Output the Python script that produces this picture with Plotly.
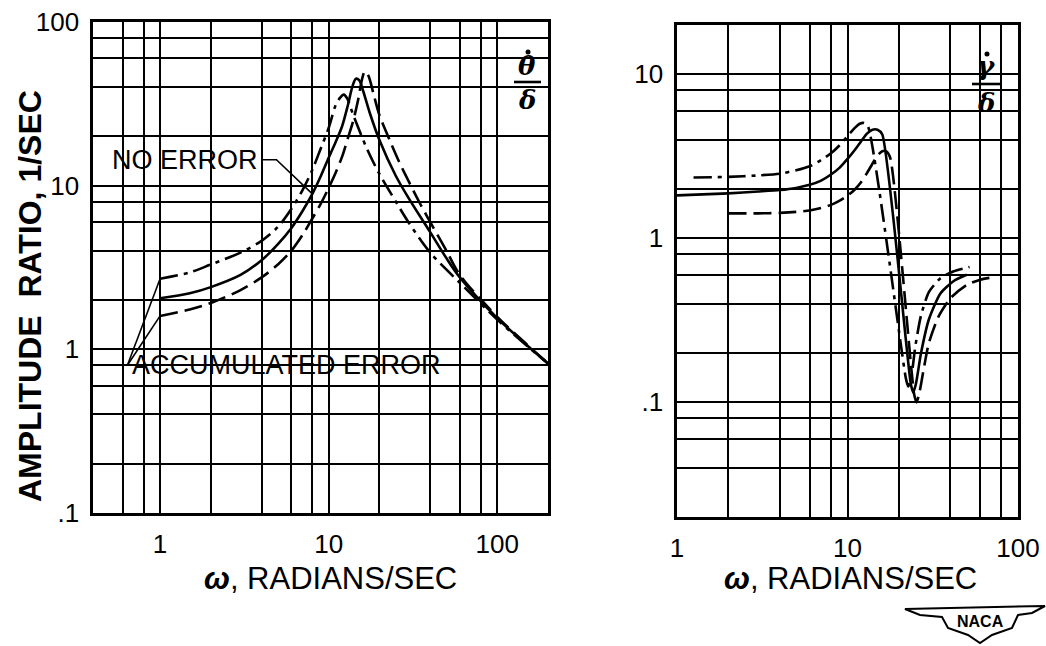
import math
import plotly.graph_objects as go

W, H = 1046, 646

# ---------------- data: left panel (theta-dot / delta) ----------------
L_dd_w = [1, 1.5, 2, 3, 4, 5, 6, 7, 8, 9, 10, 11, 11.7, 12.3, 12.9, 14, 17, 20, 25, 30, 40, 60, 100, 150, 200]
L_dd_a = [2.7, 2.95, 3.3, 3.9, 4.6, 5.6, 7.2, 9.4, 12.5, 17, 22.5, 31, 34.5, 36, 34, 27, 16.5, 11.8, 8.0, 5.9, 3.9, 2.55, 1.52, 1.05, 0.82]

L_so_w = [1, 1.5, 2, 3, 4, 5, 6, 7, 8, 9, 10, 11, 12, 13, 13.8, 14.5, 15.2, 16, 17.5, 20, 25, 30, 40, 50, 60, 100, 150, 200]
L_so_a = [2.05, 2.2, 2.4, 2.85, 3.5, 4.4, 5.5, 7.0, 8.9, 11.5, 14.8, 18.5, 23, 31, 40, 45, 44, 38, 28, 19, 11.5, 8.3, 5.2, 3.6, 2.75, 1.55, 1.06, 0.82]

L_da_w = [1, 1.5, 2, 3, 4, 5, 6, 7, 8, 9, 10, 11, 12, 13, 14, 15, 15.8, 16.4, 17.2, 18.5, 20, 23, 26, 30, 35, 40, 50, 60, 100, 150, 200]
L_da_a = [1.6, 1.75, 1.92, 2.3, 2.75, 3.3, 4.0, 5.0, 6.3, 7.8, 9.7, 12, 15, 19.5, 25, 34, 45, 50, 47, 36, 27, 19, 14.2, 10.5, 7.7, 6.0, 4.0, 2.85, 1.58, 1.07, 0.82]

# ---------------- data: right panel (gamma-dot / delta) ----------------
R_dd_w = [1.25, 2, 3, 4, 5, 6, 7, 8, 9, 10, 11, 11.8, 12.5, 13.2, 22.0, 22.7, 23.6, 25, 27, 30, 35, 42, 52]
R_dd_a = [2.35, 2.37, 2.42, 2.48, 2.6, 2.75, 3.0, 3.3, 3.7, 4.2, 4.7, 5.0, 5.05, 4.8, 0.14, 0.125, 0.14, 0.22, 0.34, 0.47, 0.57, 0.63, 0.67]

R_so_w = [1, 2, 3, 4, 5, 6, 7, 8, 9, 10, 11, 12, 13, 14, 15, 16, 23.5, 24.3, 25.2, 27, 30, 35, 42, 50]
R_so_a = [1.83, 1.88, 1.93, 1.97, 2.03, 2.12, 2.25, 2.45, 2.7, 3.05, 3.45, 3.9, 4.35, 4.6, 4.6, 4.3, 0.13, 0.115, 0.13, 0.2, 0.32, 0.46, 0.55, 0.6]

R_da_w = [2, 3, 4, 5, 6, 7, 8, 9, 10, 11, 12, 13, 14, 15, 16, 16.8, 17.8, 24.6, 25.4, 26.3, 28, 30, 34, 40, 50, 60, 72]
R_da_a = [1.42, 1.42, 1.43, 1.45, 1.48, 1.53, 1.6, 1.7, 1.82, 1.98, 2.2, 2.5, 2.85, 3.2, 3.4, 3.4, 3.1, 0.112, 0.1, 0.112, 0.16, 0.23, 0.33, 0.43, 0.52, 0.56, 0.58]

# ---------------- grids and tick labels ----------------
L_x_grid = [0.6, 0.8, 1, 2, 4, 6, 8, 10, 20, 40, 60, 80, 100]
L_x_text = {1: "1", 10: "10", 100: "100"}
L_y_grid = [0.1, 0.2, 0.4, 0.6, 0.8, 1, 2, 4, 6, 8, 10, 20, 40, 60, 80, 100]
L_y_text = {0.1: ".1", 1: "1", 10: "10", 100: "100"}
R_x_grid = [1, 2, 4, 6, 8, 10, 20, 40, 60, 80, 100]
R_x_text = {1: "1", 10: "10", 100: "100"}
R_y_grid = [0.04, 0.06, 0.08, 0.1, 0.2, 0.4, 0.6, 0.8, 1, 2, 4, 6, 8, 10]
R_y_text = {0.1: ".1", 1: "1", 10: "10"}

# annotation anchors (data units)
noerr_anchor = (3.9, 14.4)
noerr_bend_w = 4.9
noerr_target_idx = 8          # solid curve point it points at
acc_anchor = (0.64, 0.8)

FONT = "Liberation Sans"
BLK = "black"

fig = go.Figure()

def add_curve(xs, ys, dash, xa, ya, smooth):
    fig.add_trace(go.Scatter(x=xs, y=ys, mode="lines", xaxis=xa, yaxis=ya,
                             line=dict(color=BLK, width=2.6, dash=dash,
                                       shape="spline", smoothing=smooth),
                             hoverinfo="skip", showlegend=False))

DASHDOT = "18px,6px,4px,6px"
DASHED = "18px,7px"

add_curve(L_dd_w, L_dd_a, DASHDOT, "x", "y", 0.9)
add_curve(L_so_w, L_so_a, "solid", "x", "y", 0.9)
add_curve(L_da_w, L_da_a, DASHED, "x", "y", 0.9)
add_curve(R_dd_w, R_dd_a, DASHDOT, "x2", "y2", 0.6)
add_curve(R_so_w, R_so_a, "solid", "x2", "y2", 0.6)
add_curve(R_da_w, R_da_a, DASHED, "x2", "y2", 0.6)

# leader lines
def leader(xs, ys):
    fig.add_trace(go.Scatter(x=xs, y=ys, mode="lines", xaxis="x", yaxis="y",
                             line=dict(color=BLK, width=1.6),
                             hoverinfo="skip", showlegend=False))

leader([noerr_anchor[0] * 1.03, noerr_bend_w, L_so_w[noerr_target_idx]],
       [noerr_anchor[1], noerr_anchor[1], L_so_a[noerr_target_idx]])
leader([acc_anchor[0], L_dd_w[0]], [acc_anchor[1], L_dd_a[0]])
leader([acc_anchor[0], L_da_w[0]], [acc_anchor[1], L_da_a[0]])

def px(x):
    return x / W

def py(y):
    return 1 - y / H

def axis(grid, labels, rng, dom):
    return dict(type="log", range=[math.log10(rng[0]), math.log10(rng[1])], domain=dom,
                tickmode="array", tickvals=grid,
                ticktext=[labels.get(v, "") for v in grid],
                showgrid=True, gridcolor=BLK, gridwidth=2,
                showline=True, linecolor=BLK, linewidth=2.6, mirror=True,
                ticks="", zeroline=False, ticklabelstandoff=6, automargin=False,
                tickfont=dict(family=FONT, size=26, color=BLK), fixedrange=True)

lx = [px(93), px(548)]
ly = [py(513), py(22)]
rx = [px(677), px(1018)]
ry = [py(517), py(25)]

fig.update_layout(
    width=W, height=H, margin=dict(l=0, r=0, t=0, b=0, autoexpand=False), autosize=False,
    paper_bgcolor="white", plot_bgcolor="white",
    xaxis=axis(L_x_grid, L_x_text, (0.4, 200), lx),
    yaxis=axis(L_y_grid, L_y_text, (0.1, 100), ly),
    xaxis2=axis(R_x_grid, R_x_text, (1, 100), rx),
    yaxis2=axis(R_y_grid, R_y_text, (0.02, 20), ry),
)
fig.layout.yaxis2.anchor = "x2"
fig.layout.xaxis2.anchor = "y2"

shapes = []
def wbox(x0, y0, x1, y1):
    shapes.append(dict(type="rect", xref="paper", yref="paper", layer="between",
                       x0=px(x0), x1=px(x1), y0=py(y1), y1=py(y0),
                       fillcolor="white", line=dict(width=0)))

wbox(94, 137, 280, 183)      # NO ERROR
wbox(125, 352, 468, 384)     # ACCUMULATED ERROR
wbox(508, 40, 546, 120)      # theta-dot/delta
wbox(967, 46, 1006, 122)     # gamma-dot/delta

# fraction bars
for x0, x1, y in [(514, 541, 82), (972, 1001, 84)]:
    shapes.append(dict(type="line", xref="paper", yref="paper",
                       x0=px(x0), x1=px(x1), y0=py(y), y1=py(y),
                       line=dict(color=BLK, width=2.6)))
# dots over theta / gamma
for cx, cy in [(528, 52), (987, 54)]:
    shapes.append(dict(type="circle", xref="paper", yref="paper",
                       x0=px(cx - 2.5), x1=px(cx + 2.5), y0=py(cy + 2.5), y1=py(cy - 2.5),
                       fillcolor=BLK, line=dict(width=0)))

# NACA emblem outline
pts = [(905, 609), (1045, 606), (1032, 613), (1018, 615), (1012, 628), (992, 635),
       (980, 643), (968, 635), (948, 628), (942, 617), (920, 615)]
path = "M " + " L ".join(f"{px(a):.5f},{py(b):.5f}" for a, b in pts) + " Z"
shapes.append(dict(type="path", xref="paper", yref="paper", path=path,
                   line=dict(color=BLK, width=2), fillcolor="white"))
fig.update_layout(shapes=shapes)

ann = []
def txt(x, y, text, size, family=FONT, **kw):
    d = dict(xref="paper", yref="paper", x=px(x), y=py(y), text=text, showarrow=False,
             xanchor="center", yanchor="middle", font=dict(family=family, size=size, color=BLK))
    d.update(kw)
    ann.append(d)

ann.append(dict(xref="x", yref="y", x=math.log10(noerr_anchor[0]), y=math.log10(noerr_anchor[1]),
                text="NO ERROR", showarrow=False, xanchor="right", yanchor="middle",
                font=dict(family=FONT, size=27, color=BLK)))
ann.append(dict(xref="x", yref="y", x=math.log10(acc_anchor[0] * 1.04), y=math.log10(acc_anchor[1]),
                text="ACCUMULATED ERROR", showarrow=False, xanchor="left", yanchor="middle",
                font=dict(family=FONT, size=27, color=BLK)))
# fraction labels
txt(527, 66, "<b><i>θ</i></b>", 26, "DejaVu Serif")
txt(527, 100, "<b><i>δ</i></b>", 26, "DejaVu Serif")
txt(986, 66, "<b><i>γ</i></b>", 26, "DejaVu Serif")
txt(986, 103, "<b><i>δ</i></b>", 26, "DejaVu Serif")
# axis titles
txt(30, 296, "<b>AMPLITUDE  RATIO, 1/SEC</b>", 32, textangle=-90)
txt(330, 578, "<b><i>ω</i></b>, RADIANS/SEC", 31)
txt(850, 578, "<b><i>ω</i></b>, RADIANS/SEC", 31)
txt(980, 621, "<b>NACA</b>", 16)
fig.update_layout(annotations=ann)

fig.write_html("out.html", config={"displayModeBar": False, "staticPlot": True},
               post_script="document.body.style.margin='0px';")
